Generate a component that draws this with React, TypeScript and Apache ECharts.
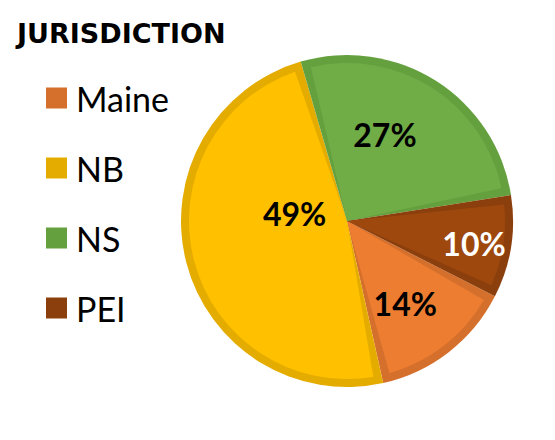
import React, { useEffect, useRef } from "react";
import * as echarts from "echarts";

const categories = ["Maine", "NB", "NS", "PEI"];
const shares = [14, 49, 27, 10];
const fillColors = ["#ED7D31", "#FFC000", "#70AD47", "#9E480E"];
const edgeColors = ["#D5702C", "#E5AC00", "#65A03F", "#8B3F0C"];
const labelColors = ["#000000", "#000000", "#000000", "#FFFFFF"];
const legendTitle = "JURISDICTION";

export default function App() {
  const ref = useRef<HTMLDivElement>(null);
  useEffect(() => {
    if (!ref.current) return;
    const chart = echarts.init(ref.current, null, { renderer: "svg" });
    const labelShift = [
      [8, 18],
      [27, -28],
      [-6, -17],
      [46, 10],
    ];
    chart.setOption({
      animation: false,
      title: {
        text: legendTitle,
        left: 9,
        top: 12,
        padding: 0,
        textStyle: {
          fontFamily: "DejaVu Sans",
          fontWeight: "bold",
          fontSize: 27,
          color: "#000",
        },
      },
      legend: {
        orient: "vertical",
        left: 38,
        top: 73,
        padding: 0,
        itemWidth: 21,
        itemHeight: 21,
        itemGap: 36,
        icon: "rect",
        selectedMode: false,
        data: categories,
        textStyle: {
          fontFamily: "Lato",
          fontSize: 34,
          lineHeight: 34,
          color: "#000",
          padding: [0, 0, 0, 4],
        },
      },
      series: [
        {
          type: "pie",
          name: "edge",
          center: [339, 213],
          radius: 166,
          startAngle: -27,
          silent: true,
          label: { show: false },
          labelLine: { show: false },
          emphasis: { disabled: true },
          data: categories.map((c, i) => ({
            name: c,
            value: shares[i],
            itemStyle: { color: edgeColors[i] },
          })),
        },
        {
          type: "pie",
          name: "fill",
          center: [339, 213],
          radius: 158,
          startAngle: -27,
          padAngle: 6,
          silent: true,
          emphasis: { disabled: true },
          labelLine: { show: false },
          label: {
            show: true,
            position: "inside",
            formatter: "{c}%",
            fontFamily: "Lato",
            fontWeight: "bold",
            fontSize: 32,
          },
          labelLayout: (p: any) => ({
            dx: labelShift[p.dataIndex][0],
            dy: labelShift[p.dataIndex][1],
          }),
          data: categories.map((c, i) => ({
            name: c,
            value: shares[i],
            itemStyle: { color: fillColors[i] },
            label: { color: labelColors[i] },
          })),
        },
      ],
    });
    return () => chart.dispose();
  }, []);
  return <div ref={ref} style={{ width: 539, height: 424 }} />;
}
